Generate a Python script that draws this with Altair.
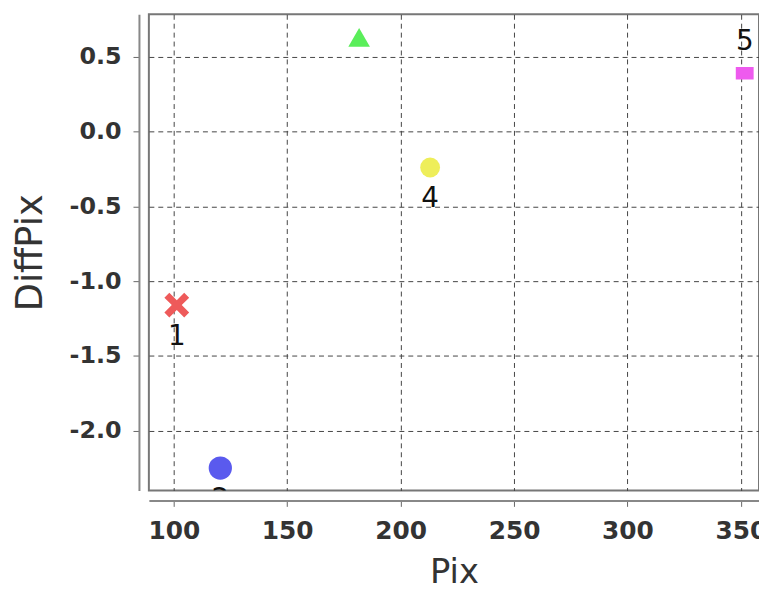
import altair as alt
import pandas as pd

ids = ["1", "2", "3", "4", "5"]
pix = [101.3, 120.5, 181.7, 213.0, 351.7]
diffpix = [-1.16, -2.25, 0.63, -0.24, 0.39]

df = pd.DataFrame({"id": ids, "Pix": pix, "DiffPix": diffpix})

x_ticks = [100, 150, 200, 250, 300, 350]
y_ticks = [-2.0, -1.5, -1.0, -0.5, 0.0, 0.5]

xpath = "M-1,-0.6L-0.6,-1L0,-0.4L0.6,-1L1,-0.6L0.4,0L1,0.6L0.6,1L0,0.4L-0.6,1L-1,0.6L-0.4,0Z"
rect = "M-1,-0.7L1,-0.7L1,0.7L-1,0.7Z"

x_enc = alt.X("Pix:Q", scale=alt.Scale(domain=[89, 358], nice=False, zero=False),
              axis=alt.Axis(values=x_ticks, title="Pix", offset=10, format="d",
                            labelFont="DejaVu Sans", labelFontSize=25,
                            labelPadding=12, titlePadding=13, titleFontSize=34))
y_enc = alt.Y("DiffPix:Q", scale=alt.Scale(domain=[-2.40, 0.785], nice=False, zero=False),
              axis=alt.Axis(values=y_ticks, title="DiffPix", offset=10,
                            labelExpr="replace(format(datum.value, '.1f'), '\u2212', '-')",
                            labelFont="DejaVu Sans", labelFontSize=24,
                            labelPadding=12, titlePadding=20, titleFontSize=37))

points = alt.Chart(df).mark_point(filled=True, opacity=1, clip=True).encode(
    x=x_enc,
    y=y_enc,
    shape=alt.Shape("id:N", scale=alt.Scale(domain=ids, range=[xpath, "circle", "triangle-up", "circle", rect]), legend=None),
    color=alt.Color("id:N", scale=alt.Scale(domain=ids, range=["#ee5a5a", "#5a5aee", "#5aee5a", "#eeee5a", "#ee5aee"]), legend=None),
    size=alt.Size("id:O", scale=alt.Scale(domain=ids, range=[625, 324, 256, 196, 256]), legend=None),
)

below = alt.Chart(df).transform_filter(
    "datum.id == '1' || datum.id == '2' || datum.id == '4'"
).mark_text(fontSize=28, font="DejaVu Sans", color="#111", dy=32, clip=True).encode(
    x="Pix:Q", y="DiffPix:Q", text="id:N")

above = alt.Chart(df).transform_filter(
    "datum.id == '3' || datum.id == '5'"
).mark_text(fontSize=28, font="DejaVu Sans", color="#111", dy=-32, clip=True).encode(
    x="Pix:Q", y="DiffPix:Q", text="id:N")

chart = alt.layer(points, below, above).properties(
    width=615, height=480,
    autosize=alt.AutoSizeParams(type="none"),
    padding={"left": 142, "top": 4, "right": 0, "bottom": 101},
    background="white",
).configure_view(
    stroke="#777", strokeWidth=2
).configure_axis(
    grid=True, gridColor="#444", gridDash=[5, 4], gridWidth=1, gridOpacity=1,
    domainColor="#888", domainWidth=2,
    tickColor="#666", tickSize=6, tickWidth=1,
    labelFontWeight="bold", labelColor="#333",
    titleFont="DejaVu Sans", titleFontWeight="normal", titleColor="#333",
)

chart.save("out.html", embed_options={"renderer": "svg", "actions": False})
